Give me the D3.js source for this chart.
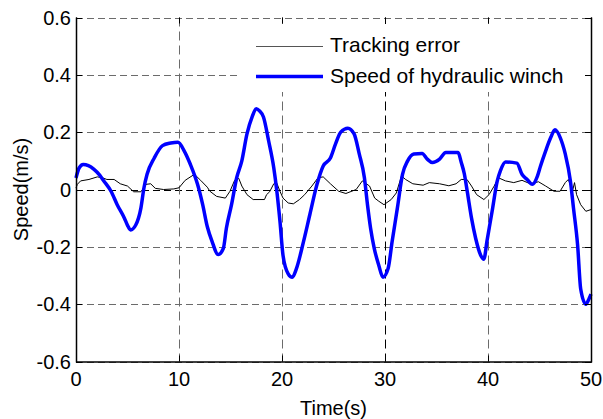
<!DOCTYPE html>
<html>
<head>
<meta charset="utf-8">
<script src="https://cdn.jsdelivr.net/npm/d3@7"></script>
<style>
  body { margin: 0; background: #fff; }
  text { font-family: Arial, "Liberation Sans", Helvetica, sans-serif; fill: #000; }
</style>
</head>
<body>
<div id="chart"></div>
<script>
// chart values
const xTicks = [0, 10, 20, 30, 40, 50];
const yTicks = [-0.6, -0.4, -0.2, 0, 0.2, 0.4, 0.6];
const seriesNames = ["Tracking error", "Speed of hydraulic winch"];

const winchTime = [0, 0.3, 0.7, 1.2, 1.75, 2.3, 2.7, 3.4, 4.0, 4.7, 5.0, 5.3, 5.8, 6.3, 6.6, 6.9, 7.6, 8.4, 9.2, 9.9,
  10.5, 11.1, 11.8, 12.3, 12.75, 13.2, 13.8, 14.3, 14.6, 15.1, 15.6, 16.1, 16.6, 17.1, 17.5, 17.8, 18.2, 18.7, 19.2, 19.5,
  19.8, 20.1, 20.6, 21.0, 21.4, 22.1, 22.7, 23.4, 24.0, 24.7, 25.2, 25.7, 26.4, 27.0, 27.5, 28.0, 28.3, 28.6, 28.96, 29.4,
  29.8, 30.3, 30.7, 31.2, 31.7, 32.2, 32.8, 33.6, 34.1, 34.6, 35.3, 35.9, 37.1, 37.4, 37.7, 38.0, 38.4, 38.8, 39.3, 39.6,
  39.9, 40.4, 40.9, 41.2, 41.7, 42.8, 43.3, 43.8, 44.3, 44.8, 45.1, 45.6, 46.1, 46.5, 47.0, 47.5, 48.0, 48.3, 48.7, 49.0,
  49.5, 49.8, 50.0];
const winchSpeed = [0.04, 0.075, 0.087, 0.083, 0.07, 0.05, 0.03, -0.006, -0.053, -0.1, -0.125, -0.141, -0.124, -0.065, 0.006, 0.053, 0.11, 0.153, 0.162, 0.165,
  0.135, 0.088, 0.018, -0.053, -0.13, -0.18, -0.227, -0.206, -0.135, -0.053, 0.041, 0.1, 0.194, 0.253, 0.282, 0.275, 0.253, 0.17, 0.076, -0.006,
  -0.11, -0.23, -0.294, -0.306, -0.276, -0.18, -0.088, 0.018, 0.082, 0.11, 0.159, 0.2, 0.214, 0.194, 0.124, 0.041, -0.053, -0.135, -0.206, -0.265,
  -0.306, -0.276, -0.18, -0.065, 0.053, 0.1, 0.124, 0.126, 0.106, 0.094, 0.106, 0.129, 0.129, 0.095, 0.055, -0.01, -0.1, -0.17, -0.23, -0.243,
  -0.18, -0.076, 0.03, 0.065, 0.096, 0.092, 0.053, 0.035, 0.018, 0.047, 0.082, 0.135, 0.182, 0.208, 0.182, 0.124, 0.03, -0.065, -0.194, -0.347,
  -0.4, -0.382, -0.365];

const errTime = [0, 0.13, 0.45, 1.26, 2.07, 2.55, 3.0, 3.7, 4.3, 5.0, 5.6, 6.3, 6.8, 7.25, 7.7, 8.5, 9.5, 10.0, 10.6, 11.5,
  12.1, 12.75, 13.0, 13.65, 14.5, 14.95, 15.4, 15.8, 16.1, 16.6, 17.2, 18.3, 18.5, 18.8, 19.2, 19.5, 19.8, 20.1, 20.6, 21.1,
  21.7, 22.2, 22.9, 23.5, 24.0, 24.7, 25.5, 26.2, 27.2, 27.8, 28.5, 29.0, 29.4, 29.9, 30.6, 31.1, 31.6, 32.0, 32.7, 33.7,
  34.3, 35.3, 36.2, 36.9, 37.4, 37.96, 38.4, 38.9, 39.6, 40.1, 40.6, 41.0, 41.7, 42.5, 43.3, 44.1, 44.9, 45.6, 46.4, 47.0,
  47.5, 47.8, 48.2, 48.4, 48.6, 49.0, 49.5, 50.0];
const errValue = [0.005, 0.018, 0.03, 0.035, 0.044, 0.041, 0.035, 0.035, 0.02, 0.012, -0.008, -0.008, 0.018, 0.02, 0.004, 0.0, 0.002, 0.006, 0.032, 0.053,
  0.032, 0.008, -0.006, -0.024, -0.03, -0.006, 0.032, 0.039, 0.012, -0.018, -0.035, -0.035, -0.018, -0.008, 0.02, 0.022, -0.006, -0.03, -0.047, -0.05,
  -0.035, -0.018, 0.012, 0.041, 0.044, 0.02, -0.006, -0.014, 0.0, 0.03, 0.012, -0.03, -0.041, -0.053, -0.035, -0.012, 0.047, 0.035, 0.02, 0.015,
  0.024, 0.02, 0.013, 0.02, 0.035, 0.035, 0.012, -0.018, -0.035, -0.018, 0.012, 0.041, 0.03, 0.024, 0.032, 0.02, 0.027, 0.012, -0.006, -0.006,
  0.024, 0.035, -0.006, 0.024, -0.018, -0.053, -0.076, -0.07];

const width = 603;
const height = 419;
const margin = { left: 76, right: 12, top: 17.5, bottom: 57.5 };

const svg = d3.select("#chart").append("svg")
  .attr("width", width)
  .attr("height", height);

const x = d3.scaleLinear().domain([0, 50]).range([margin.left, width - margin.right]);
const y = d3.scaleLinear().domain([-0.6, 0.6]).range([height - margin.bottom, margin.top]);

const x0 = x.range()[0], x1 = x.range()[1];
const y0 = y.range()[0], y1 = y.range()[1];

// dashed grid
const grid = svg.append("g");
grid.selectAll(".hgrid")
  .data(yTicks)
  .enter().append("line")
  .attr("x1", x0).attr("x2", x1)
  .attr("y1", d => Math.round(y(d)) + 0.5)
  .attr("y2", d => Math.round(y(d)) + 0.5)
  .attr("stroke", d => d === 0 ? "#000" : "#6b6b6b")
  .attr("stroke-width", 1)
  .attr("stroke-dasharray", "7,4");

grid.selectAll(".vgrid")
  .data(xTicks.slice(1, -1))
  .enter().append("line")
  .attr("x1", d => Math.round(x(d)) + 0.5)
  .attr("x2", d => Math.round(x(d)) + 0.5)
  .attr("y1", y1).attr("y2", y0)
  .attr("stroke", d => d === 30 ? "#000" : "#6b6b6b")
  .attr("stroke-width", 1)
  .attr("stroke-dasharray", "9,5");

// data lines
const errLine = d3.line()
  .x((d, i) => x(errTime[i]))
  .y(d => y(d));

const winchLine = d3.line()
  .x((d, i) => x(winchTime[i]))
  .y(d => y(d))
  .curve(d3.curveMonotoneX);

svg.append("path")
  .datum(errValue)
  .attr("fill", "none")
  .attr("stroke", "#000")
  .attr("stroke-width", 1)
  .attr("d", errLine);

svg.append("path")
  .datum(winchSpeed)
  .attr("fill", "none")
  .attr("stroke", "#0000ff")
  .attr("stroke-width", 3.5)
  .attr("stroke-linejoin", "round")
  .attr("d", winchLine);

// legend
const legend = svg.append("g");
legend.append("rect")
  .attr("x", 240).attr("y", 24)
  .attr("width", 345).attr("height", 68)
  .attr("fill", "#fff");

const legendRows = [
  { name: seriesNames[0], color: "#555", w: 1, ly: 46.5, ty: 52 },
  { name: seriesNames[1], color: "#0000ff", w: 3.5, ly: 76.5, ty: 83 }
];
legendRows.forEach(function (r) {
  legend.append("line")
    .attr("x1", 256).attr("x2", 323)
    .attr("y1", r.ly).attr("y2", r.ly)
    .attr("stroke", r.color)
    .attr("stroke-width", r.w);
  legend.append("text")
    .attr("x", 330).attr("y", r.ty)
    .style("font-size", "21px")
    .text(r.name);
});

// axes frame: left, bottom, right solid; top is the dashed grid line
svg.append("line")
  .attr("x1", x0 + 0.5).attr("x2", x0 + 0.5)
  .attr("y1", y1).attr("y2", y0 + 1)
  .attr("stroke", "#000").attr("stroke-width", 1.5);
svg.append("line")
  .attr("x1", x0).attr("x2", x1 + 1)
  .attr("y1", y0 + 0.5).attr("y2", y0 + 0.5)
  .attr("stroke", "#000").attr("stroke-width", 1.5);
svg.append("line")
  .attr("x1", x1 + 0.5).attr("x2", x1 + 0.5)
  .attr("y1", y1).attr("y2", y0 + 1)
  .attr("stroke", "#000").attr("stroke-width", 1.5);

// inward ticks on all four sides
const tickLen = 6;
const ticks = svg.append("g").attr("stroke", "#000").attr("stroke-width", 1);
xTicks.forEach(function (t) {
  const px = Math.round(x(t)) + 0.5;
  ticks.append("line").attr("x1", px).attr("x2", px).attr("y1", y0).attr("y2", y0 - tickLen);
  ticks.append("line").attr("x1", px).attr("x2", px).attr("y1", y1).attr("y2", y1 + tickLen);
});
yTicks.forEach(function (t) {
  const py = Math.round(y(t)) + 0.5;
  ticks.append("line").attr("x1", x0).attr("x2", x0 + tickLen).attr("y1", py).attr("y2", py);
  ticks.append("line").attr("x1", x1).attr("x2", x1 - tickLen).attr("y1", py).attr("y2", py);
});

// tick labels
svg.append("g").selectAll("text")
  .data(xTicks)
  .enter().append("text")
  .attr("x", d => x(d))
  .attr("y", 386)
  .attr("text-anchor", "middle")
  .style("font-size", "20px")
  .text(d => d);

svg.append("g").selectAll("text")
  .data(yTicks)
  .enter().append("text")
  .attr("x", 71)
  .attr("y", d => y(d))
  .attr("dy", "0.36em")
  .attr("text-anchor", "end")
  .style("font-size", "20px")
  .text(d => d === 0 ? "0" : d3.format(".1f")(d).replace("−", "-"));

// axis titles
svg.append("text")
  .attr("x", x((0 + 50) / 2))
  .attr("y", 415)
  .attr("text-anchor", "middle")
  .style("font-size", "20px")
  .text("Time(s)");

svg.append("text")
  .attr("transform", "translate(28," + y(0) + ") rotate(-90)")
  .attr("text-anchor", "middle")
  .style("font-size", "20px")
  .text("Speed(m/s)");
</script>
</body>
</html>
